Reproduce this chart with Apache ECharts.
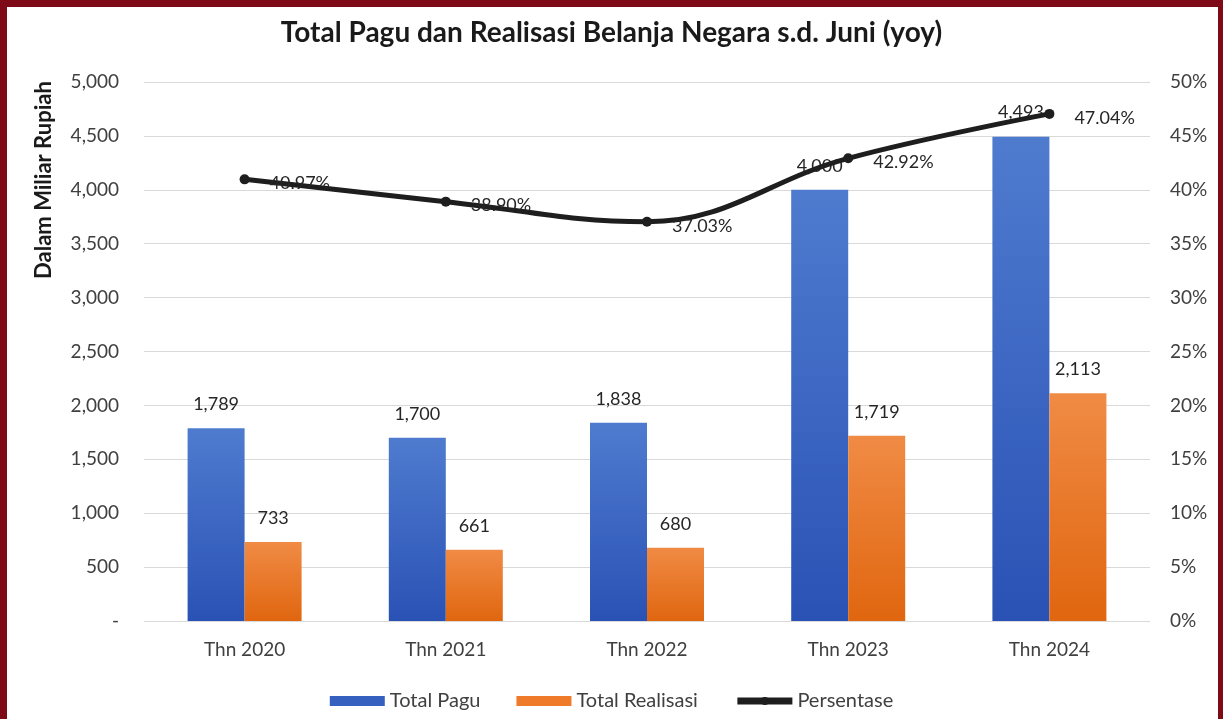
<!DOCTYPE html>
<html>
<head>
<meta charset="utf-8">
<script src="https://cdn.jsdelivr.net/npm/echarts@6/dist/echarts.min.js"></script>
<style>
  html, body { margin: 0; padding: 0; background: #fff; }
  #chart { width: 1223px; height: 719px; }
</style>
</head>
<body>
<div id="chart"></div>
<script>
  var categories = ['Thn 2020', 'Thn 2021', 'Thn 2022', 'Thn 2023', 'Thn 2024']
  var totalPagu = [1789, 1700, 1838, 4000, 4493]
  var totalRealisasi = [733, 661, 680, 1719, 2113]
  var persentase = [40.97, 38.90, 37.03, 42.92, 47.04]

  var font = 'Lato, "Open Sans", sans-serif'
  var txt = '#404040'

  var chart = echarts.init(document.getElementById('chart'))
  chart.setOption({
    animation: false,
    textStyle: { fontFamily: font },
    title: {
      text: 'Total Pagu dan Realisasi Belanja Negara s.d. Juni (yoy)',
      left: 'center',
      top: 14,
      textStyle: { fontSize: 28, fontWeight: 'bold', color: '#1a1a1a', fontFamily: font }
    },
    legend: {
      bottom: 3,
      left: 'center',
      itemGap: 36,
      textStyle: { fontSize: 20, color: txt },
      data: [
        { name: 'Total Pagu', icon: 'rect', itemStyle: { color: '#3560c0' } },
        { name: 'Total Realisasi', icon: 'rect', itemStyle: { color: '#ee7a2a' } },
        { name: 'Persentase', lineStyle: { width: 7, color: '#1e1e1e' }, itemStyle: { color: '#1e1e1e' } }
      ],
      itemWidth: 55,
      itemHeight: 10
    },
    grid: { left: 144, right: 73, top: 82, bottom: 98 },
    graphic: [
      { type: 'rect', shape: { x: 0, y: 0, width: 7, height: 719 }, style: { fill: '#7d0a16' } },
      { type: 'rect', shape: { x: 0, y: 0, width: 1223, height: 7 }, style: { fill: '#7d0a16' } },
      { type: 'rect', shape: { x: 1218, y: 0, width: 5, height: 719 }, style: { fill: '#7d0a16' } },
      {
        type: 'text', x: 44, y: 180, rotation: Math.PI / 2,
        style: {
          text: 'Dalam Miliar Rupiah', fill: '#1a1a1a', fontSize: 22, fontWeight: 'bold',
          fontFamily: font, align: 'center', verticalAlign: 'middle'
        }
      }
    ],
    xAxis: {
      type: 'category',
      data: categories,
      axisTick: { show: false },
      axisLine: { show: false },
      axisLabel: { fontSize: 19, color: txt, margin: 19 }
    },
    yAxis: [
      {
        type: 'value', min: 0, max: 5000, interval: 500,
        axisLabel: {
          fontSize: 19, color: txt, margin: 25,
          formatter: function (v) { return v === 0 ? '-' : v.toLocaleString('en-US') }
        },
        splitLine: { lineStyle: { color: '#d9d9d9', width: 1 } }
      },
      {
        type: 'value', min: 0, max: 50, interval: 5,
        axisLabel: { fontSize: 19, color: txt, margin: 20, formatter: '{value}%' },
        splitLine: { show: false }
      }
    ],
    series: [
      {
        name: 'Total Pagu',
        type: 'bar',
        data: totalPagu,
        barWidth: 57,
        barGap: '0%',
        itemStyle: {
          color: new echarts.graphic.LinearGradient(0, 0, 0, 1, [
            { offset: 0, color: '#4f7bcf' },
            { offset: 1, color: '#2a52b5' }
          ])
        },
        label: {
          show: true, position: 'top', distance: 15, fontSize: 18, color: '#262626',
          formatter: function (p) { return p.value.toLocaleString('en-US') }
        }
      },
      {
        name: 'Total Realisasi',
        type: 'bar',
        data: totalRealisasi,
        barWidth: 57,
        itemStyle: {
          color: new echarts.graphic.LinearGradient(0, 0, 0, 1, [
            { offset: 0, color: '#f08b45' },
            { offset: 1, color: '#e0660f' }
          ])
        },
        label: {
          show: true, position: 'top', distance: 15, fontSize: 18, color: '#262626',
          formatter: function (p) { return p.value.toLocaleString('en-US') }
        }
      },
      {
        name: 'Persentase',
        type: 'line',
        yAxisIndex: 1,
        data: persentase,
        smooth: 0.4,
        symbol: 'circle',
        symbolSize: 10,
        lineStyle: { color: '#1e1e1e', width: 5 },
        itemStyle: { color: '#1e1e1e' },
        label: {
          show: true, position: 'right', distance: 20, fontSize: 18, color: '#262626',
          offset: [0, 4],
          formatter: function (p) { return p.value.toFixed(2) + '%' }
        },
        z: 5
      }
    ]
  })
</script>
</body>
</html>
